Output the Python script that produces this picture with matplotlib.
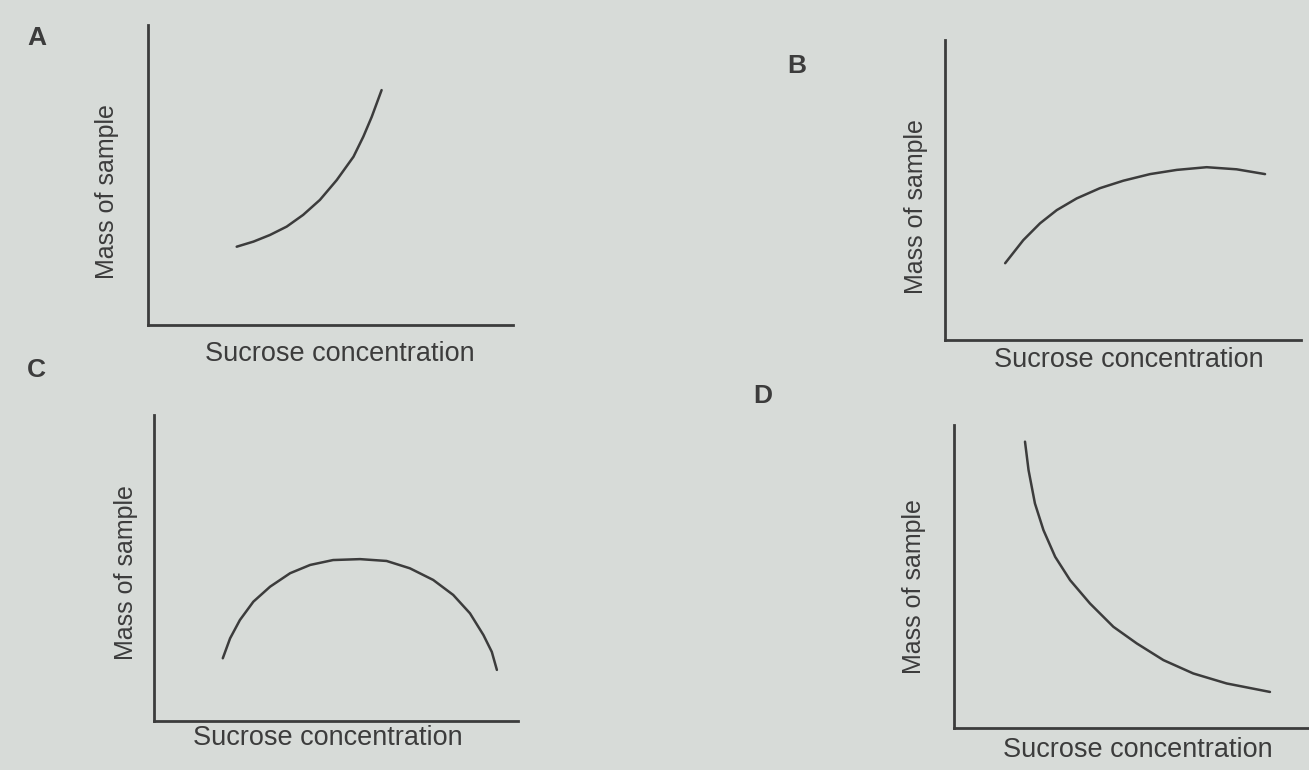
import matplotlib
matplotlib.use("Agg")
import matplotlib.pyplot as plt

W, H = 1309, 770
BG = '#d7dbd8'
INK = '#3c3c3c'

# curves, axis units 0..100
a_x = [24.3, 28.9, 33.4, 38.0, 42.5, 47.1, 51.7, 56.3, 59.0, 61.3, 64.0]
a_y = [26.1, 27.8, 30.0, 32.8, 36.7, 41.7, 48.3, 56.1, 62.8, 69.4, 78.3]

b_x = [16.9, 22.0, 26.7, 31.4, 37.0, 43.5, 50.1, 57.6, 65.1, 73.5, 81.9, 89.9]
b_y = [25.6, 33.3, 38.9, 43.3, 47.2, 50.6, 53.1, 55.3, 56.7, 57.6, 56.9, 55.3]

c_x = [18.9, 20.9, 23.6, 27.3, 31.9, 37.4, 42.9, 49.2, 56.6, 63.9, 70.3,
       76.7, 82.2, 86.8, 90.5, 92.8, 94.2]
c_y = [20.5, 27.0, 33.0, 39.0, 43.9, 48.3, 51.0, 52.6, 52.9, 52.3, 49.9,
       46.1, 41.2, 35.2, 28.1, 22.6, 16.7]

d_x = [20.0, 21.0, 22.8, 25.2, 28.5, 32.7, 38.3, 44.9, 51.5, 59.0, 67.4, 76.8, 89.0]
d_y = [94.5, 85.1, 74.1, 65.3, 56.5, 48.8, 41.1, 33.4, 27.9, 22.4, 18.0, 14.7, 11.9]

panel_letters = ['A', 'B', 'C', 'D']
x_label = 'Sucrose concentration'
y_label = 'Mass of sample'

FONT = ['Liberation Sans', 'DejaVu Sans']


def px_axes(fig, left, top, right, bottom):
    ax = fig.add_axes([left / W, 1 - bottom / H, (right - left) / W, (bottom - top) / H])
    ax.set_facecolor('none')
    ax.set_xlim(0, 100)
    ax.set_ylim(0, 100)
    for s in ['top', 'right']:
        ax.spines[s].set_visible(False)
    for s in ['left', 'bottom']:
        ax.spines[s].set_color(INK)
        ax.spines[s].set_linewidth(2.0)
    ax.set_xticks([])
    ax.set_yticks([])
    return ax


def put(fig, x, y, s, **kw):
    fig.text(x / W, 1 - y / H, s, color=INK, family=FONT, ha='center', va='center', **kw)


fig = plt.figure(figsize=(W / 100, H / 100), dpi=100)
fig.patch.set_facecolor(BG)

panels = [
    ((148, 25, 513, 325), a_x, a_y, (37, 38), (107, 192), (340, 354)),
    ((945, 40, 1301, 340), b_x, b_y, (797, 66), (916, 207), (1129, 360)),
    ((154, 415, 518, 721), c_x, c_y, (36, 370), (126, 573), (328, 738)),
    ((954, 425, 1309, 728), d_x, d_y, (763, 396), (914, 587), (1138, 750)),
]

for letter, (box, xs, ys, lpos, ypos, xpos) in zip(panel_letters, panels):
    ax = px_axes(fig, *box)
    ax.plot(xs, ys, color=INK, lw=1.8, solid_capstyle='round', solid_joinstyle='round')
    put(fig, lpos[0], lpos[1], letter, fontsize=19, fontweight='semibold')
    put(fig, ypos[0], ypos[1], y_label, fontsize=18, rotation=90)
    put(fig, xpos[0], xpos[1], x_label, fontsize=19.5)

fig.savefig('out.png', dpi=100, facecolor=BG)
